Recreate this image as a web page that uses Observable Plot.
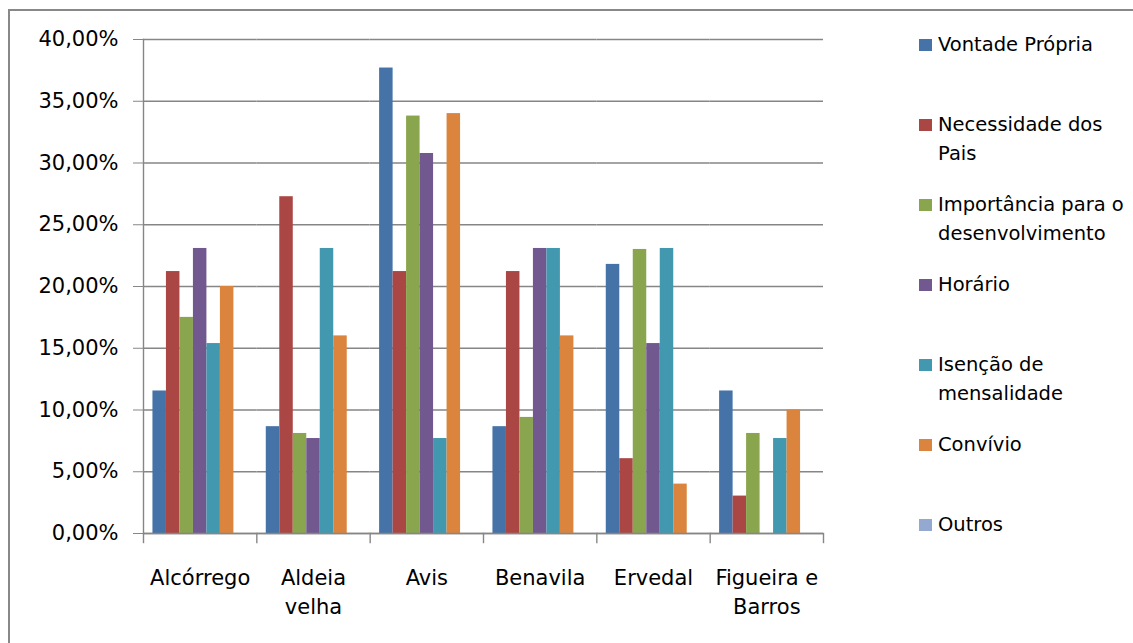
<!DOCTYPE html>
<html>
<head>
<meta charset="utf-8">
<script src="https://cdn.jsdelivr.net/npm/d3@7"></script>
<script src="https://cdn.jsdelivr.net/npm/@observablehq/plot@0.6"></script>
<style>
  body { margin: 0; background: #fff; }
  #wrap { position: relative; width: 1133px; height: 643px; overflow: hidden; font-family: "DejaVu Sans", sans-serif; background: #fff; }
  #border { position: absolute; left: 8px; top: 9px; right: -10px; bottom: -10px; border-top: 2px solid #888; border-left: 2px solid #888; }
  #chart { position: absolute; left: 0; top: 0; }
  #legend { position: absolute; left: 919px; top: 0; }
  .item { position: absolute; left: 0; display: flex; align-items: flex-start; white-space: pre; }
  .sw { width: 13px; height: 12px; margin-top: 9px; flex: none; }
  .lab { margin-left: 6px; font-size: 19.5px; line-height: 29px; color: #000; }
</style>
</head>
<body>
<div id="wrap">
  <div id="border"></div>
  <div id="chart"></div>
  <div id="legend"></div>
</div>
<script>
// ---- data ----
const localities = ["Alcórrego", "Aldeia velha", "Avis", "Benavila", "Ervedal", "Figueira e Barros"];
const localityLabels = ["Alcórrego", "Aldeia\nvelha", "Avis", "Benavila", "Ervedal", "Figueira e\nBarros"];
const series = ["Vontade Própria", "Necessidade dos Pais", "Importância para o desenvolvimento", "Horário", "Isenção de mensalidade", "Convívio", "Outros"];
const legendLabels = ["Vontade Própria", "Necessidade dos\nPais", "Importância para o\ndesenvolvimento", "Horário", "Isenção de\nmensalidade", "Convívio", "Outros"];
const colors = ["#4572A7", "#AA4643", "#89A54E", "#71588F", "#4198AF", "#DB843D", "#93A9CF"];

const vontadePropria      = [0.1154, 0.0865, 0.3769, 0.0865, 0.2179, 0.1154];
const necessidadePais     = [0.2121, 0.2727, 0.2121, 0.2121, 0.0606, 0.0303];
const importancia         = [0.1750, 0.0810, 0.3380, 0.0940, 0.2300, 0.0810];
const horario             = [0.2308, 0.0769, 0.3077, 0.2308, 0.1538, 0.0000];
const isencao             = [0.1538, 0.2308, 0.0769, 0.2308, 0.2308, 0.0769];
const convivio            = [0.2000, 0.1600, 0.3400, 0.1600, 0.0400, 0.1000];
const outros              = [0, 0, 0, 0, 0, 0];

const yTicks = [0, 0.05, 0.10, 0.15, 0.20, 0.25, 0.30, 0.35, 0.40];

// ---- build table ----
const values = [vontadePropria, necessidadePais, importancia, horario, isencao, convivio, outros];
const rows = series.flatMap((s, i) => localities.map((l, j) => ({locality: l, series: s, value: values[i][j]})));

const W = 1133, H = 643, mT = 39, mB = 110, mL = 143, mR = 310;
const plotH = H - mT - mB;
const gridColor = "#868686";
const fmt = d => (d * 100).toFixed(2).replace(".", ",") + "%";
const fxLabel = d => localityLabels[localities.indexOf(d)];

const chart = Plot.plot({
  width: W, height: H,
  marginTop: mT, marginBottom: mB, marginLeft: mL, marginRight: mR,
  style: {fontFamily: "DejaVu Sans", fontSize: "21px", color: "#000", background: "transparent", overflow: "visible"},
  fx: {domain: localities, padding: 0, round: false, axis: null, label: null},
  x: {domain: series, paddingInner: 0, paddingOuter: 0.7, round: false, axis: null},
  y: {domain: [0, 0.4], axis: null},
  color: {domain: series, range: colors},
  marks: [
    Plot.ruleY(yTicks, {stroke: gridColor, strokeWidth: 1.4}),
    Plot.barY(rows, {fx: "locality", x: "series", y: "value", fill: "series"}),
    Plot.ruleY([0], {stroke: gridColor, strokeWidth: 1.6}),
    Plot.frame({anchor: "left", facetAnchor: "left", stroke: gridColor, strokeWidth: 1.4}),
    Plot.frame({anchor: "left", stroke: gridColor, strokeWidth: 1.4, insetTop: plotH, insetBottom: -9}),
    Plot.frame({anchor: "right", facetAnchor: "right", stroke: gridColor, strokeWidth: 1.4, insetTop: plotH, insetBottom: -9}),
    Plot.axisY({ticks: yTicks, tickFormat: fmt, tickSize: 10, tickPadding: 15, stroke: gridColor, fill: "#000", label: null}),
    Plot.axisFx({anchor: "bottom", tickSize: 0, tickPadding: 31, tickFormat: fxLabel, lineHeight: 1.38, fill: "#000", label: null})
  ]
});
document.getElementById("chart").appendChild(chart);

// ---- legend ----
const legend = document.getElementById("legend");
legendLabels.forEach((lab, i) => {
  const item = document.createElement("div");
  item.className = "item";
  item.style.top = (29.5 + i * 80) + "px";
  const sw = document.createElement("div");
  sw.className = "sw";
  sw.style.background = colors[i];
  const t = document.createElement("div");
  t.className = "lab";
  t.textContent = lab;
  item.appendChild(sw);
  item.appendChild(t);
  legend.appendChild(item);
});
</script>
</body>
</html>
